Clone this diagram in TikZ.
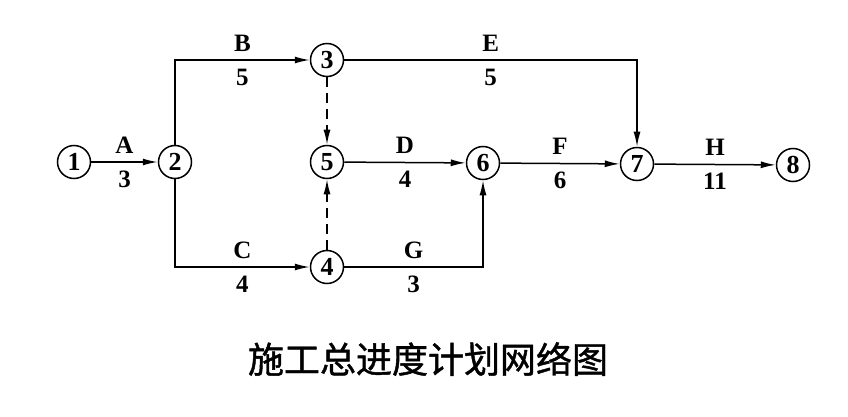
\documentclass[tikz,border=0pt]{standalone}
\usepackage{fontspec}
\setmainfont{Liberation Serif}
\newfontfamily\cjk[FakeBold=1.2]{Noto Sans CJK SC}
\usetikzlibrary{arrows.meta}

\begin{document}
\begin{tikzpicture}[x=1pt,y=-1pt,
	ev/.style={draw,circle,line width=1.5pt,minimum size=33pt,inner sep=0pt,font=\fontsize{26}{30}\selectfont\bfseries},
	act/.style={line width=1.5pt,-{Latex[length=15pt,width=7pt]}},
	dummy/.style={act,dash pattern=on 10pt off 6pt},
	lbl/.style={font=\fontsize{25}{30}\selectfont\bfseries,inner sep=8pt}]
	\useasboundingbox (0,0) rectangle (848,417);

	% events
	\node[ev] (n1) at (74,162) {1};
	\node[ev] (n2) at (175,162) {2};
	\node[ev] (n3) at (327,60) {3};
	\node[ev] (n5) at (327,162) {5};
	\node[ev] (n4) at (327,267) {4};
	\node[ev] (n6) at (483,163) {6};
	\node[ev] (n7) at (637,164) {7};
	\node[ev] (n8) at (793,165) {8};

	% activities
	\draw[act] (n1) -- node[lbl,above] {A} node[lbl,below] {3} (n2);
	\draw[act] (n2) |- node[lbl,above,pos=0.75] {B} node[lbl,below,pos=0.75] {5} (n3);
	\draw[act] (n2) |- node[lbl,above,pos=0.75] {C} node[lbl,below,pos=0.75] {4} (n4);
	\draw[act] (n3) -| node[lbl,above,pos=0.25] {E} node[lbl,below,pos=0.25] {5} (n7);
	\draw[act] (n5) -- node[lbl,above] {D} node[lbl,below] {4} (n6);
	\draw[act] (n4) -| node[lbl,above,pos=0.25] {G} node[lbl,below,pos=0.25] {3} (n6);
	\draw[act] (n6) -- node[lbl,above] {F} node[lbl,below] {6} (n7);
	\draw[act] (n7) -- node[lbl,above] {H} node[lbl,below] {11} (n8);

	% dummy activities
	\draw[dummy] (n3) -- (n5);
	\draw[dummy] (n4) -- (n5);

	% title
	\node[font=\cjk\fontsize{36}{40}\selectfont] (title) at (428,359) {施工总进度计划网络图};
\end{tikzpicture}
\end{document}
